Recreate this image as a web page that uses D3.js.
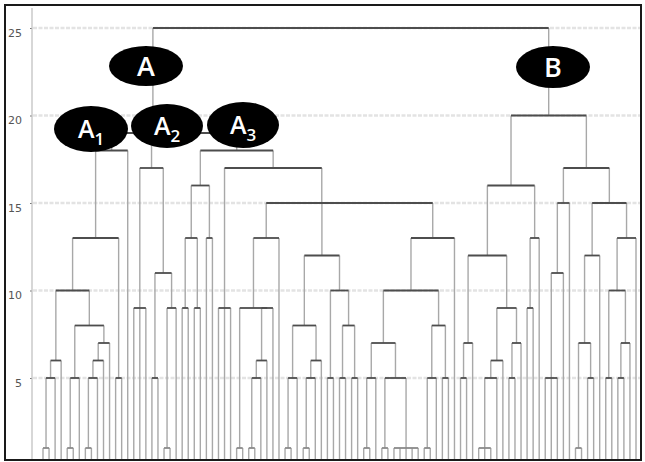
<!DOCTYPE html>
<html>
<head>
<meta charset="utf-8">
<script src="https://cdn.jsdelivr.net/npm/d3@7"></script>
<style>
  body { margin: 0; background: #fff; }
  svg { display: block; }
</style>
</head>
<body>
<svg width="645" height="462"></svg>
<script>
// **** Dendrogram data ****
// Sub-clusters in a Newick-like form: "x" is a sample, ")h" closes a merge at height h
var clusterA1  = "((((((x,x)1,x)5,x)6,(((x,x)1,x)5,((((x,x)1,x)5,x)6,x)7)8)10,(x,x)5)13,x)18";
var clusterA2  = "((x,x,x)9,((x,x)5,((x,x)1,x)9)11)17";
var clusterA3a = "(((x,x)9,(x,x)9)13,(x,x)13)16";
var clusterA3b = "(x,x,x)9";
var clusterA3c = "(((x,x)1,((((x,x)1,x)5,x)6,x)9)9,x)13";
var clusterA3d = "((((x,x)1,x)5,(((x,x)1,x)5,x)6)8,((x,x)5,((x,x)5,(x,x)5)8)10)12";
var clusterA3e = "(((((x,x)1,x)5,((x,x)1,(x,x,x,x,x)1)5)7,(((x,x)1,x)5,(x,x)5)8)10,x)13";
var clusterB1a = "(((x,x)5,x)7,((((x,x,x)1,x)5,x)6,((x,x)5,x)7)9)12";
var clusterB1b = "((x,x)9,x)13";
var clusterB2a = "(((x,x,x)5,x)11,x)15";
var clusterB2b = "((((x,x)1,(x,x)5)7,x)12,(((x,x)5,((x,x)5,x)7)10,x)13)15";

// heights of the upper merges
var mergeHeights = { A3cde: 15, A3bcde: 17, A3: 18, A23: 19, A: 19, B1: 16, B2: 17, B: 20, root: 25 };

var yTicks = [5, 10, 15, 20, 25];

var clusterLabels = [
    { main: "A", sub: "",  cx: 146, cy: 66,  rx: 37, ry: 20 },
    { main: "A", sub: "1", cx: 91,  cy: 129, rx: 37, ry: 23 },
    { main: "A", sub: "2", cx: 167, cy: 126, rx: 36, ry: 22 },
    { main: "A", sub: "3", cx: 243, cy: 125, rx: 36, ry: 23 },
    { main: "B", sub: "",  cx: 553, cy: 67,  rx: 37, ry: 21 }
];

function join(h) {
    var parts = Array.prototype.slice.call(arguments, 1);
    return "(" + parts.join(",") + ")" + h;
}

var A3 = join(mergeHeights.A3, clusterA3a,
    join(mergeHeights.A3bcde, clusterA3b,
        join(mergeHeights.A3cde, clusterA3c,
            join(mergeHeights.A3cde, clusterA3d, clusterA3e))));
var A = join(mergeHeights.A, clusterA1, join(mergeHeights.A23, clusterA2, A3));
var B = join(mergeHeights.B,
    join(mergeHeights.B1, clusterB1a, clusterB1b),
    join(mergeHeights.B2, clusterB2a, clusterB2b));
var treeString = join(mergeHeights.root, A, B);

function parseTree(s) {
    var i = 0;
    function node() {
        if (s[i] === "(") {
            i++;
            var children = [node()];
            while (s[i] === ",") { i++; children.push(node()); }
            i++; // ")"
            var num = "";
            while (i < s.length && /[0-9.]/.test(s[i])) num += s[i++];
            return { height: +num, children: children };
        }
        i++; // "x"
        return { height: 0 };
    }
    return node();
}

// **** Layout ****
var root = d3.hierarchy(parseTree(treeString));
var leaves = root.leaves();

var xScale = d3.scalePoint()
    .domain(d3.range(leaves.length))
    .range([43, 636]);

var yScale = d3.scaleLinear()
    .domain([0, 25]).range([465.5, 28]);

var plotBottom = 459;

leaves.forEach(function(d, i) { d.x = xScale(i); });
root.eachAfter(function(d) {
    if (d.children) {
        d.x = (d.children[0].x + d.children[d.children.length - 1].x) / 2;
    }
});

var svg = d3.select('svg');

svg.append('defs').append('clipPath').attr('id', 'plot')
    .append('rect').attr('x', 6).attr('y', 6).attr('width', 634).attr('height', plotBottom - 6);

// gridlines
svg.append('g').selectAll('line')
    .data(yTicks).enter().append('line')
    .attr('x1', 33).attr('x2', 640)
    .attr('y1', function(d) { return yScale(d); })
    .attr('y2', function(d) { return yScale(d); })
    .attr('stroke', '#e3e3e3')
    .attr('stroke-width', 2.5)
    .attr('stroke-dasharray', '4,1.5');

// y axis
var axis = svg.append('g').attr('class', 'y axis')
    .attr('transform', 'translate(32,0)')
    .call(d3.axisLeft(yScale).tickValues(yTicks).tickSize(2).tickPadding(8));
axis.select('.domain').remove();
axis.selectAll('.tick line').attr('stroke', '#777');
axis.selectAll('.tick text')
    .attr('dy', '0.75em')
    .style('font-family', 'DejaVu Sans, sans-serif')
    .style('font-size', '11px')
    .attr('fill', '#555');
svg.append('line')
    .attr('x1', 32).attr('x2', 32).attr('y1', 8).attr('y2', plotBottom)
    .attr('stroke', '#bdbdbd').attr('stroke-width', 1.2);

// **** Dendrogram ****
var tree = svg.append('g').attr('clip-path', 'url(#plot)');

tree.selectAll('line.v')
    .data(root.descendants().filter(function(d) { return d.parent; }))
    .enter().append('line')
    .attr('class', 'v')
    .attr('x1', function(d) { return d.x; })
    .attr('x2', function(d) { return d.x; })
    .attr('y1', function(d) { return d.children ? yScale(d.data.height) : plotBottom; })
    .attr('y2', function(d) { return yScale(d.parent.data.height); })
    .attr('stroke', '#a8a8a8')
    .attr('stroke-width', 1.4);

tree.selectAll('line.h')
    .data(root.descendants().filter(function(d) { return d.children; }))
    .enter().append('line')
    .attr('class', 'h')
    .attr('x1', function(d) { return d.children[0].x; })
    .attr('x2', function(d) { return d.children[d.children.length - 1].x; })
    .attr('y1', function(d) { return yScale(d.data.height); })
    .attr('y2', function(d) { return yScale(d.data.height); })
    .attr('stroke', function(d) { return d.data.height <= 1 ? '#8a8a8a' : '#4d4d4d'; })
    .attr('stroke-width', 1.8);

// **** Cluster labels ****
var tags = svg.append('g').selectAll('g')
    .data(clusterLabels).enter().append('g')
    .attr('transform', function(d) { return 'translate(' + d.cx + ',' + d.cy + ')'; });

tags.append('ellipse')
    .attr('rx', function(d) { return d.rx; })
    .attr('ry', function(d) { return d.ry; })
    .attr('fill', '#000');

var label = tags.append('text')
    .attr('text-anchor', 'middle')
    .attr('y', function(d) { return d.sub ? 9 : 10; })
    .attr('fill', '#fff')
    .style('font-family', 'Open Sans, sans-serif')
    .style('font-weight', 600);

label.append('tspan')
    .style('font-size', function(d) { return d.sub ? '25px' : '27px'; })
    .text(function(d) { return d.main; });

label.append('tspan')
    .attr('dy', 7)
    .style('font-size', '17px')
    .text(function(d) { return d.sub; });

// frame
svg.append('rect')
    .attr('x', 5).attr('y', 5).attr('width', 636).attr('height', 455)
    .attr('fill', 'none').attr('stroke', '#1a1a1a').attr('stroke-width', 2);
</script>
</body>
</html>
